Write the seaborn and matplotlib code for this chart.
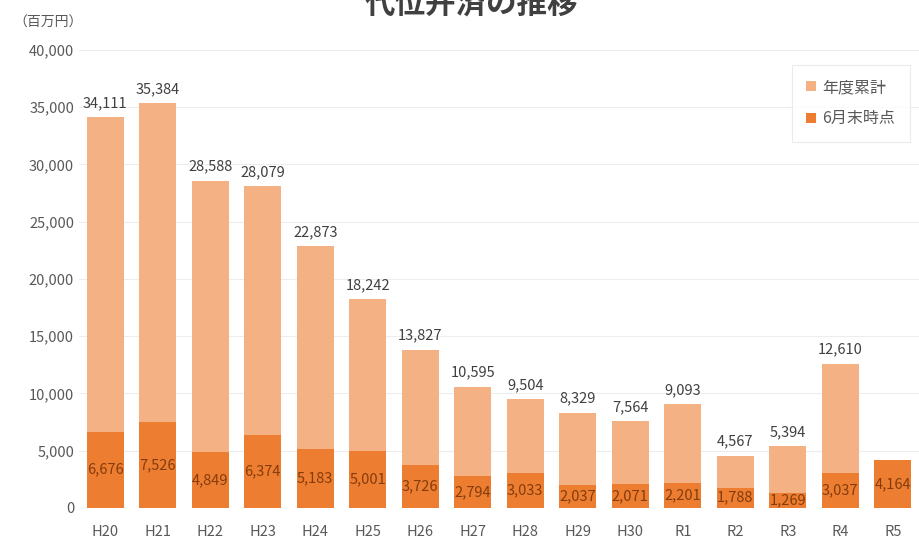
import numpy as np
import pandas as pd
import matplotlib
matplotlib.use("Agg")
import matplotlib.pyplot as plt
import seaborn as sns

# data (百万円)
years = ["H20", "H21", "H22", "H23", "H24", "H25", "H26", "H27",
         "H28", "H29", "H30", "R1", "R2", "R3", "R4", "R5"]
annual_total = [34111, 35384, 28588, 28079, 22873, 18242, 13827, 10595,
                9504, 8329, 7564, 9093, 4567, 5394, 12610, np.nan]
end_of_june = [6676, 7526, 4849, 6374, 5183, 5001, 3726, 2794,
               3033, 2037, 2071, 2201, 1788, 1269, 3037, 4164]

df = pd.DataFrame({"year": years, "total": annual_total, "june": end_of_june})

sns.set_theme(style="white")
plt.rcParams["font.family"] = ["Noto Sans CJK JP", "DejaVu Sans"]

light = "#F4B183"
dark = "#ED7D31"
grey = "#595959"

fig = plt.figure(figsize=(9.19, 5.41), dpi=100)
ax = fig.add_axes([0.086, 0.061, 0.914, 0.8466])

sns.barplot(data=df, x="year", y="total", order=years, color=light,
            width=0.7, saturation=1, linewidth=0, label="年度累計", ax=ax)
sns.barplot(data=df, x="year", y="june", order=years, color=dark,
            width=0.7, saturation=1, linewidth=0, label="6月末時点", ax=ax)

ax.bar_label(ax.containers[0], fmt="{:,.0f}", padding=5,
             fontsize=10.5, color="#404040")
ax.bar_label(ax.containers[1], fmt="{:,.0f}", label_type="center",
             fontsize=10.5, color="#843C0C")

ax.set_ylim(0, 40000)
ax.set_xlim(-0.5, len(years) - 0.5)
ax.set_yticks(range(0, 40001, 5000))
ax.yaxis.set_major_formatter(matplotlib.ticker.FuncFormatter(lambda v, p: f"{v:,.0f}"))
ax.grid(axis="y", color="#EDEDED", linewidth=0.8)
ax.set_axisbelow(True)
for s in ax.spines.values():
    s.set_visible(False)
ax.tick_params(axis="both", length=0, labelsize=10.5, colors=grey)
ax.tick_params(axis="x", pad=12)
ax.set_xlabel("")
ax.set_ylabel("")

leg = ax.legend(loc="upper right", bbox_to_anchor=(0.9925, 0.975), fontsize=11.5,
                frameon=True, fancybox=False, edgecolor="#E6E6E6",
                handlelength=0.6, handleheight=0.6, handletextpad=0.4,
                labelspacing=0.9, borderpad=0.9, borderaxespad=0.2)
for t in leg.get_texts():
    t.set_color(grey)
leg.get_frame().set_linewidth(0.8)

fig.text(0.015, 0.958, "（百万円）", fontsize=10, color=grey, ha="left", va="center")
fig.text(0.513, 0.994, "代位弁済の推移", fontsize=22, fontweight="bold",
         color="#404040", ha="center", va="center")

fig.savefig("out.png", dpi=100)
